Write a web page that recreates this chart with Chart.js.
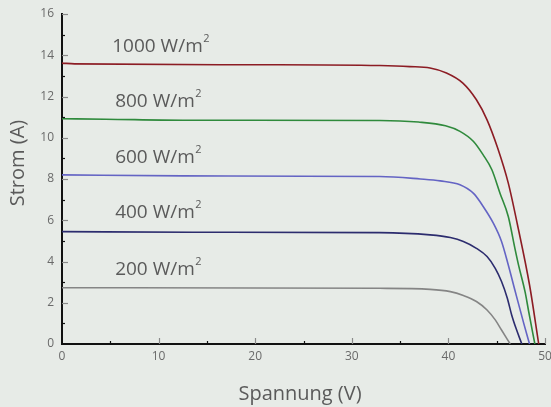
<!DOCTYPE html>
<html>
<head>
<meta charset="utf-8">
<script src="https://cdn.jsdelivr.net/npm/chart.js@4/dist/chart.umd.min.js"></script>
<style>
  html, body { margin: 0; padding: 0; background: #e7ebe7; }
  #wrap { width: 551px; height: 407px; }
</style>
</head>
<body>
<div id="wrap"><canvas id="ivChart" width="551" height="407"></canvas></div>
<script>
// Kennlinien: Spannung (V) und Strom (A) je Einstrahlung
const seriesNames = ['1000', '800', '600', '400', '200'];

const volt1000 = [0, 1.3, 20.5, 32.9, 36.0, 38.1, 39.8, 41.5, 42.9, 44.0, 45.1, 46.2, 47.15, 48.4, 49.35];
const amp1000  = [13.62, 13.58, 13.54, 13.5, 13.45, 13.38, 13.14, 12.65, 11.84, 10.87, 9.5, 7.8, 5.78, 2.86, 0];

const volt800 = [0, 4.5, 12.5, 32.9, 36.9, 39.7, 41.2, 42.6, 43.6, 44.5, 45.35, 46.2, 46.9, 47.25, 47.95, 48.3, 48.95];
const amp800  = [10.92, 10.9, 10.85, 10.84, 10.76, 10.58, 10.31, 9.82, 9.17, 8.45, 7.3, 6.18, 4.6, 3.85, 2.5, 1.6, 0];

const volt600 = [0, 12.5, 32.9, 37.1, 39.15, 41.2, 42.6, 43.6, 44.65, 45.5, 46.2, 46.9, 47.8, 48.4];
const amp600  = [8.2, 8.15, 8.12, 8.0, 7.91, 7.72, 7.3, 6.67, 5.86, 4.97, 3.83, 2.58, 1.0, 0];

const volt400 = [0, 13.5, 32.9, 38.1, 40.2, 41.55, 42.9, 44.0, 44.85, 45.5, 46.1, 46.55, 47.0, 47.6];
const amp400  = [5.45, 5.42, 5.40, 5.29, 5.16, 4.97, 4.64, 4.24, 3.67, 3.03, 2.22, 1.41, 0.76, 0];

const volt200 = [0, 32.9, 38.1, 40.2, 41.55, 42.9, 44.0, 44.85, 45.5, 46.4];
const amp200  = [2.73, 2.70, 2.65, 2.54, 2.35, 2.06, 1.65, 1.17, 0.68, 0];

const lineColors = ['#8c1c24', '#2f8a3c', '#6464c4', '#2c2c6e', '#858585'];

// Beschriftung der Kurven (Spannung, Strom der Grundlinie)
const labelVolt = [5.2, 5.5, 5.5, 5.5, 5.5];
const labelAmp  = [14.17, 11.5, 8.79, 6.12, 3.35];

function toPoints(vs, is) {
    return vs.map((v, k) => ({ x: v, y: is[k] }));
}

const curves = [
    toPoints(volt1000, amp1000),
    toPoints(volt800, amp800),
    toPoints(volt600, amp600),
    toPoints(volt400, amp400),
    toPoints(volt200, amp200)
];

const FONT = '"Open Sans", "DejaVu Sans", sans-serif';

// Innenliegende Achsenstriche, Titel und Kurvenbeschriftungen
const decorPlugin = {
    id: 'decor',
    afterDraw(chart) {
        const ctx = chart.ctx;
        const xs = chart.scales.x;
        const ys = chart.scales.y;
        const area = chart.chartArea;
        ctx.save();
        ctx.lineWidth = 1.2;

        // x ticks (nach oben)
        for (let v = 5; v <= 50; v += 5) {
            const px = Math.round(xs.getPixelForValue(v)) + 0.5;
            const major = v % 10 === 0;
            ctx.strokeStyle = major ? '#8a8a8a' : '#111';
            ctx.beginPath();
            ctx.moveTo(px, area.bottom);
            ctx.lineTo(px, area.bottom - (major ? 6 : 3));
            ctx.stroke();
        }
        // y ticks (nach rechts)
        for (let v = 1; v <= 16; v += 1) {
            const py = Math.round(ys.getPixelForValue(v)) + 0.5;
            const major = v % 2 === 0;
            ctx.strokeStyle = major ? '#8a8a8a' : '#111';
            ctx.beginPath();
            ctx.moveTo(area.left, py);
            ctx.lineTo(area.left + (major ? 6 : 3), py);
            ctx.stroke();
        }

        // Achsentitel
        ctx.fillStyle = '#5a5a5a';
        ctx.font = '20px ' + FONT;
        ctx.textAlign = 'center';
        ctx.textBaseline = 'alphabetic';
        ctx.fillText('Spannung (V)', 300, 400);
        ctx.save();
        ctx.translate(24, 163);
        ctx.rotate(-Math.PI / 2);
        ctx.fillText('Strom (A)', 0, 0);
        ctx.restore();

        // Kurvenbeschriftungen "xxx W/m²"
        ctx.textAlign = 'left';
        seriesNames.forEach((name, k) => {
            const px = xs.getPixelForValue(labelVolt[k]);
            const py = ys.getPixelForValue(labelAmp[k]);
            ctx.font = '19px ' + FONT;
            const main = name + ' W/m';
            ctx.fillText(main, px, py);
            const w = ctx.measureText(main).width;
            ctx.font = '11px ' + FONT;
            ctx.fillText('2', px + w + 0.5, py - 10);
        });
        ctx.restore();
    }
};

const chart = new Chart(document.getElementById('ivChart'), {
    type: 'scatter',
    data: {
        datasets: curves.map((pts, k) => ({
            label: seriesNames[k] + ' W/m²',
            data: pts,
            showLine: true,
            borderColor: lineColors[k],
            borderWidth: 1.6,
            pointRadius: 0,
            cubicInterpolationMode: 'monotone',
            fill: false
        }))
    },
    options: {
        responsive: false,
        animation: false,
        layout: { padding: { left: 0, right: 6, top: 14, bottom: 0 } },
        plugins: {
            legend: { display: false },
            tooltip: { enabled: false }
        },
        scales: {
            x: {
                type: 'linear',
                min: 0,
                max: 50,
                afterFit: (s) => { s.height = 63; s.paddingLeft = 0; s.paddingRight = 0; },
                grid: { display: false, drawTicks: false },
                border: { color: '#111', width: 2 },
                ticks: {
                    stepSize: 10,
                    padding: 5,
                    color: '#6a6a6a',
                    font: { family: FONT, size: 12 }
                }
            },
            y: {
                type: 'linear',
                min: 0,
                max: 16,
                afterFit: (s) => { s.width = 62; s.paddingTop = 0; s.paddingBottom = 0; },
                grid: { display: false, drawTicks: false },
                border: { color: '#111', width: 2 },
                ticks: {
                    stepSize: 2,
                    padding: 8,
                    color: '#6a6a6a',
                    font: { family: FONT, size: 12 }
                }
            }
        }
    },
    plugins: [decorPlugin]
});
</script>
</body>
</html>
